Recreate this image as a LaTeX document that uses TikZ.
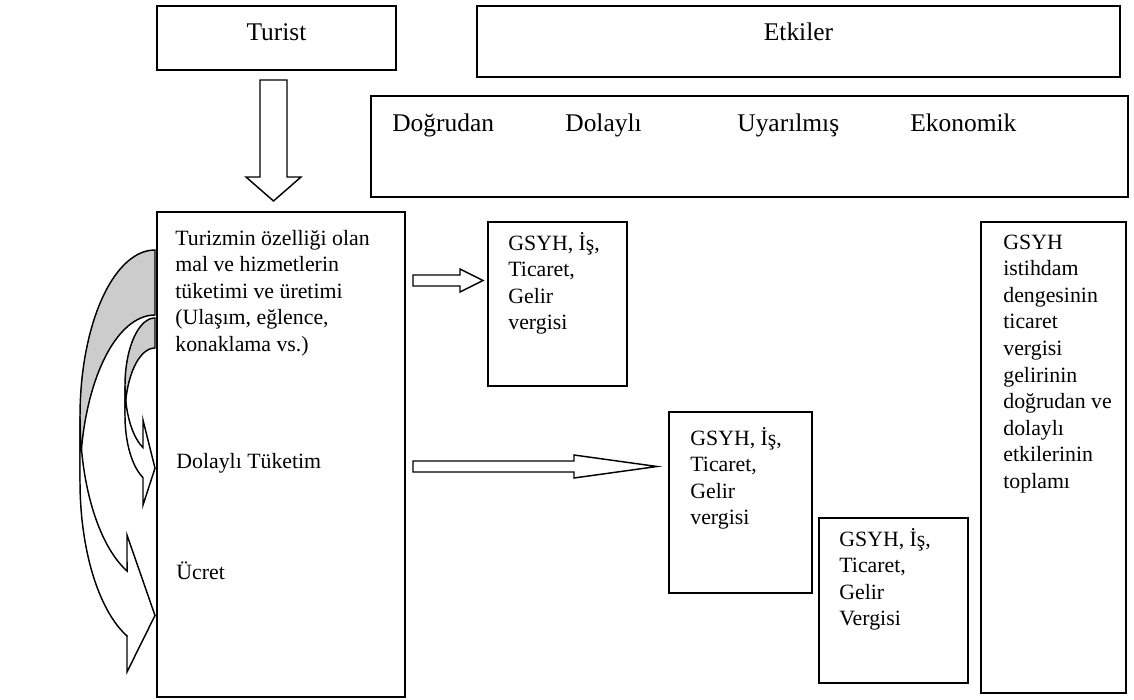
\documentclass[tikz,border=0pt]{standalone}
\usepackage{fontspec}
\setmainfont{Liberation Serif}
\usetikzlibrary{fit}

\tikzset{
  box/.style={draw, line width=1pt, inner sep=0pt},
  body/.style={anchor=north west, inner sep=0pt, align=left, font=\fontsize{12}{14.6}\selectfont},
  head/.style={anchor=base, inner sep=0pt, font=\fontsize{14}{17}\selectfont},
  blockarrow/.style={draw, fill=white, line width=0.8pt, line join=miter},
  backband/.style={draw, fill=black!20, line width=0.8pt},
  frontband/.style={draw, fill=white, line width=0.8pt, line join=miter},
}

\begin{document}
\begin{tikzpicture}[x=0.55pt, y=-0.55pt]
\useasboundingbox (0,0) rectangle (1134,700);

% top row
\node[box, fit={(157,6) (396,70)}] (turistbox) {};
\node[head] (turist) at (276.5,41) {Turist};
\node[box, fit={(477,6) (1120,77)}] (etkilerbox) {};
\node[head] (etkiler) at (798.5,41) {Etkiler};

% kinds of effects
\node[box, fit={(371,96) (1128,197)}] (turbox) {};
\node[head, anchor=base west] (dogrudan) at (392,132) {Doğrudan};
\node[head, anchor=base west] (dolayli) at (565,132) {Dolaylı};
\node[head, anchor=base west] (uyarilmis) at (737,132) {Uyarılmış};
\node[head, anchor=base west] (ekonomik) at (910,132) {Ekonomik};

% main box
\node[box, fit={(157,212) (405,697)}] (tuketimbox) {};
\node[body] (tuketim) at (175,226.4) {\strut Turizmin özelliği olan\\mal ve hizmetlerin\\tüketimi ve üretimi\\(Ulaşım, eğlence,\\konaklama vs.)};
\node[body, anchor=base west] (dtuketim) at (176,468) {Dolaylı Tüketim};
\node[body, anchor=base west] (ucret) at (176,579) {Ücret};

% effect boxes
\node[box, fit={(488,222) (627,386)}] (gsyhbox1) {};
\node[body] (gsyh1) at (508,231.4) {\strut GSYH, İş,\\Ticaret,\\Gelir\\vergisi};
\node[box, fit={(669,412) (812,593)}] (gsyhbox2) {};
\node[body] (gsyh2) at (690,426.4) {\strut GSYH, İş,\\Ticaret,\\Gelir\\vergisi};
\node[box, fit={(819,518) (968,683)}] (gsyhbox3) {};
\node[body] (gsyh3) at (839,527.4) {\strut GSYH, İş,\\Ticaret,\\Gelir\\Vergisi};
\node[box, fit={(981,222) (1126,693)}] (toplambox) {};
\node[body] (toplam) at (1003,230.4) {\strut GSYH\\istihdam\\dengesinin\\ticaret\\vergisi\\gelirinin\\doğrudan ve\\dolaylı\\etkilerinin\\toplamı};

% block arrows
\draw[blockarrow] (260,80) -- (287,80) -- (287,177) -- (301,177) -- (273.5,201) -- (246,177) -- (260,177) -- cycle;
\draw[blockarrow] (413,275) -- (460,275) -- (460,269) -- (483,280.5) -- (460,292) -- (460,286) -- (413,286) -- cycle;
\draw[blockarrow] (413,461) -- (574,461) -- (574,455) -- (657,466.5) -- (574,478) -- (574,472) -- (413,472) -- cycle;

% curved arrows, big one
\draw[backband] plot[domain=270:180, samples=40, variable=\t] ({155+75*cos(\t)}, {416.5+166.5*sin(\t)})
  -- plot[domain=180:270, samples=40, variable=\t] ({155+75*cos(\t)}, {481.5+166.5*sin(\t)}) -- cycle;
\draw[frontband] plot[domain=180:111.9, samples=40, variable=\t] ({155+75*cos(\t)}, {416.5+166.5*sin(\t)})
  -- (127,535) -- (155,615.5) -- (127,672) -- (127,636)
  -- plot[domain=111.9:180, samples=40, variable=\t] ({155+75*cos(\t)}, {481.5+166.5*sin(\t)}) -- cycle;

% small one
\draw[backband] plot[domain=270:180, samples=30, variable=\t] ({155+30*cos(\t)}, {385.6+67.6*sin(\t)})
  -- plot[domain=180:270, samples=30, variable=\t] ({155+30*cos(\t)}, {415.6+67.6*sin(\t)}) -- cycle;
\draw[frontband] plot[domain=180:113.6, samples=30, variable=\t] ({155+30*cos(\t)}, {385.6+67.6*sin(\t)})
  -- (143,420.1) -- (155,468.2) -- (143,505.1) -- (143,477.6)
  -- plot[domain=113.6:180, samples=30, variable=\t] ({155+30*cos(\t)}, {415.6+67.6*sin(\t)}) -- cycle;
\end{tikzpicture}
\end{document}
